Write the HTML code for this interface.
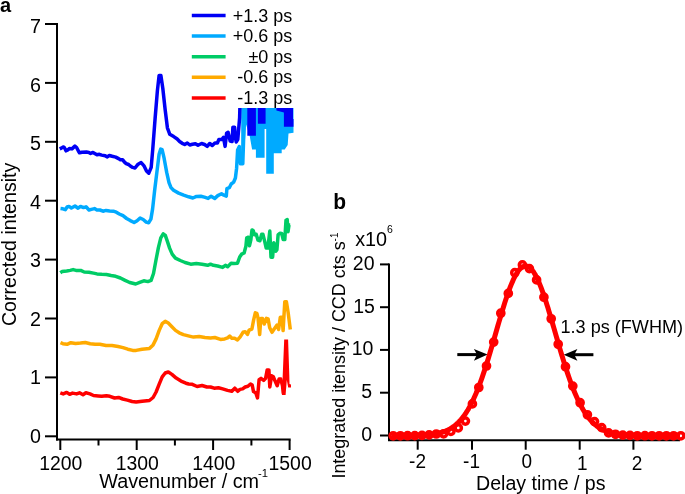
<!DOCTYPE html>
<html><head><meta charset="utf-8"><style>
html,body{margin:0;padding:0;background:#fff;}
svg{display:block;filter:blur(0.35px);}
</style></head><body>
<svg width="685" height="494" viewBox="0 0 685 494">
<rect width="685" height="494" fill="#fff"/>
<g stroke="#000" stroke-width="2" fill="none">
<line x1="57" y1="23" x2="57" y2="440.5"/>
<line x1="45" y1="24.0" x2="57" y2="24.0"/>
<line x1="45" y1="82.9" x2="57" y2="82.9"/>
<line x1="45" y1="141.8" x2="57" y2="141.8"/>
<line x1="45" y1="200.7" x2="57" y2="200.7"/>
<line x1="45" y1="259.6" x2="57" y2="259.6"/>
<line x1="45" y1="318.5" x2="57" y2="318.5"/>
<line x1="45" y1="377.4" x2="57" y2="377.4"/>
<line x1="45" y1="436.3" x2="57" y2="436.3"/>
<line x1="56" y1="439.5" x2="290.7" y2="439.5"/>
<line x1="60.3" y1="440" x2="60.3" y2="450"/>
<line x1="98.5" y1="440" x2="98.5" y2="445.5"/>
<line x1="136.7" y1="440" x2="136.7" y2="450"/>
<line x1="174.9" y1="440" x2="174.9" y2="445.5"/>
<line x1="213.1" y1="440" x2="213.1" y2="450"/>
<line x1="251.4" y1="440" x2="251.4" y2="445.5"/>
<line x1="289.6" y1="440" x2="289.6" y2="450"/>
</g>
<g font-family="'Liberation Sans', sans-serif" fill="#000">
<text transform="translate(41.0,32.6) scale(1,1.04)" font-size="19.7" text-anchor="end">7</text>
<text transform="translate(41.0,91.5) scale(1,1.04)" font-size="19.7" text-anchor="end">6</text>
<text transform="translate(41.0,150.4) scale(1,1.04)" font-size="19.7" text-anchor="end">5</text>
<text transform="translate(41.0,209.3) scale(1,1.04)" font-size="19.7" text-anchor="end">4</text>
<text transform="translate(41.0,267.3) scale(1,1.04)" font-size="19.7" text-anchor="end">3</text>
<text transform="translate(41.0,326.0) scale(1,1.04)" font-size="19.7" text-anchor="end">2</text>
<text transform="translate(41.0,384.3) scale(1,1.04)" font-size="19.7" text-anchor="end">1</text>
<text transform="translate(41.0,442.8) scale(1,1.04)" font-size="19.7" text-anchor="end">0</text>
<text transform="translate(60.8,469.6) scale(1,1.04)" font-size="19.4" text-anchor="middle">1200</text>
<text transform="translate(137.2,469.6) scale(1,1.04)" font-size="19.4" text-anchor="middle">1300</text>
<text transform="translate(213.7,469.6) scale(1,1.04)" font-size="19.4" text-anchor="middle">1400</text>
<text transform="translate(290.1,469.6) scale(1,1.04)" font-size="19.4" text-anchor="middle">1500</text>
<text transform="translate(99.2,488) scale(1,1.04)" font-size="19.8">Wavenumber / cm</text>
<text transform="translate(258.1,477.2) scale(1,1.04)" font-size="11.2">-1</text>
<text transform="translate(16,244.4) rotate(-90) scale(1,1.04)" font-size="19.6" text-anchor="middle">Corrected intensity</text>
<text transform="translate(0.1,12.1) scale(1,1.04)" font-size="20" font-weight="bold">a</text>
<line x1="191.8" y1="15.5" x2="225.6" y2="15.5" stroke="#0000f5" stroke-width="3.5"/>
<text transform="translate(292.3,21.5) scale(1,1.04)" font-size="18" text-anchor="end">+1.3 ps</text>
<line x1="191.8" y1="36.1" x2="225.6" y2="36.1" stroke="#00aaff" stroke-width="3.5"/>
<text transform="translate(292.3,42.1) scale(1,1.04)" font-size="18" text-anchor="end">+0.6 ps</text>
<line x1="191.8" y1="56.7" x2="225.6" y2="56.7" stroke="#00cc66" stroke-width="3.5"/>
<text transform="translate(292.3,62.7) scale(1,1.04)" font-size="18" text-anchor="end">±0 ps</text>
<line x1="191.8" y1="77.3" x2="225.6" y2="77.3" stroke="#ffaa00" stroke-width="3.5"/>
<text transform="translate(292.3,83.3) scale(1,1.04)" font-size="18" text-anchor="end">-0.6 ps</text>
<line x1="191.8" y1="97.9" x2="225.6" y2="97.9" stroke="#ff0000" stroke-width="3.5"/>
<text transform="translate(292.3,103.9) scale(1,1.04)" font-size="18" text-anchor="end">-1.3 ps</text>
</g>
<defs><clipPath id="ca"><rect x="58" y="20" width="178" height="420"/><rect x="236" y="108" width="62" height="332"/></clipPath></defs>
<g clip-path="url(#ca)" fill="none" stroke-width="3.5" stroke-linejoin="round" stroke-linecap="butt">
<polyline points="60.3,392.8 63.2,393.9 66.7,392.4 69.6,394.3 72.5,393.1 76.6,393.9 79.5,392.8 83.0,394.8 85.9,392.8 90.0,393.9 93.5,395.5 98.2,395.9 101.7,396.3 106.4,395.7 109.9,396.3 114.6,398.0 118.6,397.4 122.7,399.0 127.4,400.1 132.1,401.5 136.1,402.1 142.1,401.2 149.4,400.5 153.1,397.5 156.1,392.0 159.2,384.2 162.2,376.9 165.2,373.0 168.3,372.0 171.9,374.4 176.2,378.1 181.0,381.1 185.9,383.2 188.6,384.0 192.3,384.3 197.1,386.5 202.0,385.5 206.9,387.0 210.5,387.0 214.2,388.2 218.4,387.7 222.7,388.9 227.5,390.4 231.8,391.3 234.8,388.2 237.8,391.3 240.0,389.4 242.6,388.9 245.2,387.0 247.9,386.3 250.5,384.0 252.2,385.0 253.5,391.6 255.8,392.9 257.5,397.9 259.1,379.7 261.0,378.4 263.7,380.4 265.6,378.4 267.2,369.9 268.9,369.9 269.8,387.0 271.6,375.8 273.3,376.8 275.1,381.1 277.2,385.7 279.1,379.1 280.8,379.1 282.5,385.7 283.3,393.5" stroke="#ff0000"/>
<polygon points="281.9,395.0 284.2,339.6 288.1,339.6 289.3,375.0 289.5,384.0 291.0,384.5 291.0,387.5 288.2,387.5 286.8,380.0 285.6,395.0" fill="#ff0000" stroke="none"/>
<polyline points="60.5,342.7 62.9,343.7 67.1,344.3 70.8,342.7 75.6,343.5 80.5,343.1 85.3,342.5 90.2,343.7 95.1,344.3 99.9,344.3 106.0,345.5 112.0,345.5 118.1,346.5 123.0,347.6 127.8,349.2 132.7,350.4 136.1,350.4 142.1,349.2 149.4,348.6 153.1,344.9 156.1,338.9 159.2,330.4 162.2,323.7 165.2,321.3 168.3,323.1 171.9,326.7 175.5,330.4 179.2,332.8 183.4,334.6 189.3,336.1 193.5,337.1 199.2,336.5 204.9,337.5 210.5,337.9 214.8,337.5 220.5,339.4 224.7,338.9 227.6,337.9 229.7,336.1 231.8,338.2 234.6,338.2 237.5,339.9 240.2,336.8 243.0,332.3 245.2,331.7 247.5,334.5 249.1,330.1 251.9,329.0 253.6,320.1 255.3,312.8 256.9,313.4 258.0,317.8 259.7,334.5 260.8,318.4 262.5,318.4 264.2,324.0 266.4,318.4 268.1,318.9 269.7,327.8 272.0,332.3 274.2,329.0 277.0,325.1 278.6,329.5 280.3,317.3 282.0,317.3 283.1,330.6 284.8,301.7 286.4,301.7 288.1,312.3 290.3,329.5" stroke="#ffaa00"/>
<polyline points="60.3,272.8 62.0,271.6 66.7,271.0 70.2,270.4 73.1,269.6 76.0,270.4 80.7,270.4 84.2,272.0 88.9,272.2 93.5,273.1 97.0,273.9 101.7,274.3 106.4,274.5 111.1,275.5 115.7,276.3 120.4,278.0 125.1,280.4 129.7,282.5 135.7,284.0 139.7,282.4 143.8,280.8 147.8,281.6 151.1,280.3 153.5,273.5 155.9,260.5 158.4,247.6 160.8,237.8 163.2,233.8 165.3,235.4 167.3,241.1 169.7,248.4 172.2,254.1 175.4,258.1 180.3,260.5 185.1,262.5 190.7,264.2 196.3,263.6 202.0,264.3 207.7,265.3 210.5,264.2 213.4,265.3 217.6,266.0 222.6,267.4 225.4,265.3 227.6,266.7 231.1,263.2 233.9,263.6 237.5,263.2 239.7,257.0 241.6,254.2 244.1,253.0 245.9,246.3 246.7,237.8 248.3,237.2 249.5,245.7 250.8,240.2 252.0,229.9 253.2,230.5 254.4,234.8 256.2,234.2 258.0,240.2 259.9,240.8 261.7,234.2 262.9,234.2 264.7,241.4 266.2,248.1 267.8,248.1 269.8,231.1 271.0,257.2 272.6,257.2 273.8,242.7 275.7,251.2 276.9,249.9 278.1,234.8 279.9,233.2 281.7,233.5 283.2,239.6 284.8,239.6 286.0,220.2 287.2,219.6 288.0,231.7 289.0,225.0 290.2,225.0" stroke="#00cc66"/>
<polyline points="60.5,208.5 62.9,208.8 65.3,209.7 67.1,207.0 69.0,206.4 71.4,208.0 75.0,206.0 78.1,208.2 80.5,206.4 83.5,207.6 86.0,206.8 89.0,210.0 91.4,209.4 94.5,208.6 96.9,210.0 99.9,210.0 103.0,211.2 106.0,210.4 109.6,210.9 113.3,211.2 116.3,212.2 119.3,214.0 123.0,215.7 126.6,218.5 130.3,220.6 134.1,222.5 137.1,220.7 140.1,218.0 143.2,219.5 146.2,222.1 148.6,222.7 150.9,219.1 152.6,208.9 154.6,190.7 157.1,170.4 159.1,154.2 160.7,149.1 162.1,149.7 164.1,158.2 166.7,172.4 169.0,182.6 171.0,187.6 173.6,190.3 178.6,193.1 183.7,195.1 188.6,196.8 192.9,198.0 196.5,196.4 200.8,196.2 204.4,197.1 208.1,198.4 211.1,196.2 214.8,198.4 217.8,195.6 221.5,193.7 223.9,195.2 226.3,196.2 226.9,188.6 229.3,187.7 231.2,184.0 233.6,182.2 235.4,178.0 236.6,168.2 237.6,150.0 239.3,146.6 240.5,163.8 242.8,163.8 243.6,139.7 244.5,100.0" stroke="#00aaff"/>
<polygon points="241.2,108.0 293.5,108.0 293.5,132.8 288.5,133.5 287.7,144.9 284.7,149.5 281.7,149.5 281.7,153.2 273.8,153.2 273.8,173.7 266.2,173.7 266.2,129.0 264.6,129.0 264.6,157.8 255.9,157.8 255.9,149.5 252.1,149.5 249.7,136.0 246.1,124.6 243.3,163.8 241.2,163.8" fill="#00aaff" stroke="none"/>
<polyline points="59.7,148.9 61.4,148.1 63.2,146.9 64.3,147.5 66.1,150.8 67.8,149.9 69.6,148.5 71.9,148.9 74.9,146.1 76.6,147.5 78.4,151.0 79.5,152.8 81.9,152.2 86.5,152.0 88.9,152.4 90.6,153.4 93.0,152.4 94.7,153.4 97.0,154.8 99.4,154.3 101.7,155.1 105.2,155.7 107.0,156.9 109.3,155.5 112.2,156.3 115.7,157.1 118.6,158.6 120.4,159.8 122.7,159.8 124.5,162.1 126.2,163.6 128.6,164.5 130.3,166.0 132.7,167.4 135.0,168.0 138.1,164.2 141.1,162.5 144.2,166.2 146.5,171.0 148.8,173.2 151.2,167.3 152.8,148.7 155.1,118.5 157.4,90.6 159.1,75.5 160.9,75.5 162.8,88.3 165.1,109.2 167.4,127.8 169.8,134.3 173.7,136.6 177.2,139.0 179.6,141.5 182.2,143.3 184.7,144.5 187.3,143.0 189.8,145.0 192.4,144.3 195.4,143.7 198.0,145.3 201.6,143.5 204.6,144.5 207.2,146.4 209.7,143.5 212.3,145.5 214.9,143.0 217.4,143.0 218.9,139.4 222.0,139.4 223.5,137.4 225.1,146.4 226.6,133.3 228.1,132.3 230.2,141.0 232.1,141.5 232.9,127.2 234.6,127.2 235.4,138.0 236.3,142.0 237.8,139.4 239.6,118.0 240.1,100.0" stroke="#0000f5"/>
<polygon points="247.3,108.0 255.9,108.0 255.9,135.8 247.3,135.8" fill="#0000f5" stroke="none"/>
<polygon points="257.9,108.0 265.6,108.0 265.6,123.7 257.9,123.7" fill="#0000f5" stroke="none"/>
<polygon points="276.4,108.0 293.0,108.0 293.0,119.0 293.5,119.0 293.5,126.7 283.9,126.7 283.9,112.5 276.4,110.5" fill="#0000f5" stroke="none"/>
</g>
<g stroke="#000" stroke-width="2" fill="none">
<line x1="389" y1="263.4" x2="389" y2="441"/>
<line x1="380" y1="435.5" x2="389" y2="435.5"/>
<line x1="380" y1="392.7" x2="389" y2="392.7"/>
<line x1="380" y1="349.9" x2="389" y2="349.9"/>
<line x1="380" y1="307.2" x2="389" y2="307.2"/>
<line x1="380" y1="264.4" x2="389" y2="264.4"/>
<line x1="388" y1="440.3" x2="680" y2="440.3"/>
<line x1="417.7" y1="441" x2="417.7" y2="449.7"/>
<line x1="472" y1="441" x2="472" y2="449.7"/>
<line x1="525.7" y1="441" x2="525.7" y2="449.7"/>
<line x1="579.7" y1="441" x2="579.7" y2="449.7"/>
<line x1="633.4" y1="441" x2="633.4" y2="449.7"/>
</g>
<g font-family="'Liberation Sans', sans-serif" fill="#000">
<text transform="translate(372.0,440.8) scale(1,1.04)" font-size="19.5" text-anchor="end">0</text>
<text transform="translate(372.2,398.3) scale(1,1.04)" font-size="19.5" text-anchor="end">5</text>
<text transform="translate(373.3,354.8) scale(1,1.04)" font-size="19.5" text-anchor="end">10</text>
<text transform="translate(374.8,312.6) scale(1,1.04)" font-size="19.5" text-anchor="end">15</text>
<text transform="translate(374.5,270.0) scale(1,1.04)" font-size="19.5" text-anchor="end">20</text>
<text transform="translate(417.5,468.2) scale(1,1.04)" font-size="19" text-anchor="middle">-2</text>
<text transform="translate(471.5,468.2) scale(1,1.04)" font-size="19" text-anchor="middle">-1</text>
<text transform="translate(526.8,468.2) scale(1,1.04)" font-size="19" text-anchor="middle">0</text>
<text transform="translate(582.2,470) scale(1,1.04)" font-size="19" text-anchor="middle">1</text>
<text transform="translate(637,470) scale(1,1.04)" font-size="19" text-anchor="middle">2</text>
<text transform="translate(476,489.8) scale(1,1.04)" font-size="19.6">Delay time / ps</text>
<text transform="translate(355.2,246) scale(1,1.04)" font-size="19.8">x10</text>
<text transform="translate(387.1,232.6) scale(1,1.04)" font-size="10.5">6</text>
<text transform="translate(345.0,478.6) rotate(-90) scale(1,1.04)" font-size="17.95">Integrated itensity / CCD cts s<tspan dy="-6.3" font-size="9.8">-1</tspan></text>
<text transform="translate(333.2,209.2) scale(1,1.04)" font-size="21" font-weight="bold">b</text>
<text transform="translate(560.5,332.9) scale(1,1.04)" font-size="18.1">1.3 ps (FWHM)</text>
</g>
<g fill="#000" stroke="none">
<rect x="457.3" y="353.1" width="20" height="3"/>
<polygon points="487.6,354.6 473.9,349 477,354.6 473.9,360.7"/>
<rect x="573" y="353.2" width="20.4" height="3"/>
<polygon points="563.7,354.7 577.4,349.1 574.3,354.7 577.4,360.8"/>
</g>
<polyline points="392.0,435.5 393.0,435.5 394.0,435.5 395.0,435.5 396.0,435.5 397.0,435.5 398.0,435.5 399.0,435.5 400.0,435.5 401.0,435.5 402.0,435.5 403.0,435.5 404.0,435.5 405.0,435.5 406.0,435.4 407.0,435.4 408.0,435.4 409.0,435.4 410.0,435.4 411.0,435.4 412.0,435.4 413.0,435.4 414.0,435.4 415.0,435.3 416.0,435.3 417.0,435.3 418.0,435.3 419.0,435.2 420.0,435.2 421.0,435.2 422.0,435.1 423.0,435.1 424.0,435.0 425.0,435.0 426.0,434.9 427.0,434.8 428.0,434.7 429.0,434.6 430.0,434.6 431.0,434.4 432.0,434.3 433.0,434.2 434.0,434.0 435.0,433.9 436.0,433.7 437.0,433.5 438.0,433.3 439.0,433.1 440.0,432.8 441.0,432.6 442.0,432.3 443.0,432.0 444.0,431.6 445.0,431.2 446.0,430.8 447.0,430.4 448.0,429.9 449.0,429.4 450.0,428.9 451.0,428.3 452.0,427.6 453.0,427.0 454.0,426.2 455.0,425.5 456.0,424.6 457.0,423.7 458.0,422.8 459.0,421.8 460.0,420.7 461.0,419.6 462.0,418.4 463.0,417.1 464.0,415.8 465.0,414.4 466.0,412.9 467.0,411.3 468.0,409.7 469.0,407.9 470.0,406.1 471.0,404.2 472.0,402.2 473.0,400.2 474.0,398.0 475.0,395.8 476.0,393.5 477.0,391.0 478.0,388.6 479.0,386.0 480.0,383.3 481.0,380.6 482.0,377.8 483.0,374.9 484.0,371.9 485.0,368.9 486.0,365.8 487.0,362.6 488.0,359.4 489.0,356.1 490.0,352.8 491.0,349.4 492.0,346.0 493.0,342.6 494.0,339.2 495.0,335.7 496.0,332.2 497.0,328.8 498.0,325.3 499.0,321.9 500.0,318.5 501.0,315.1 502.0,311.8 503.0,308.5 504.0,305.2 505.0,302.1 506.0,299.0 507.0,296.0 508.0,293.1 509.0,290.4 510.0,287.7 511.0,285.1 512.0,282.7 513.0,280.4 514.0,278.3 515.0,276.3 516.0,274.5 517.0,272.8 518.0,271.3 519.0,270.0 520.0,268.9 521.0,267.9 522.0,267.1 523.0,266.6 524.0,266.2 525.0,266.0 526.0,265.9 527.0,266.1 528.0,266.5 529.0,267.1 530.0,267.8 531.0,268.8 532.0,269.9 533.0,271.2 534.0,272.7 535.0,274.3 536.0,276.1 537.0,278.1 538.0,280.2 539.0,282.5 540.0,284.9 541.0,287.4 542.0,290.1 543.0,292.9 544.0,295.7 545.0,298.7 546.0,301.8 547.0,304.9 548.0,308.1 549.0,311.4 550.0,314.7 551.0,318.1 552.0,321.5 553.0,325.0 554.0,328.4 555.0,331.9 556.0,335.4 557.0,338.8 558.0,342.3 559.0,345.7 560.0,349.1 561.0,352.4 562.0,355.8 563.0,359.0 564.0,362.3 565.0,365.4 566.0,368.6 567.0,371.6 568.0,374.6 569.0,377.5 570.0,380.3 571.0,383.0 572.0,385.7 573.0,388.3 574.0,390.8 575.0,393.2 576.0,395.5 577.0,397.8 578.0,400.0 579.0,402.0 580.0,404.0 581.0,405.9 582.0,407.7 583.0,409.5 584.0,411.1 585.0,412.7 586.0,414.2 587.0,415.6 588.0,417.0 589.0,418.3 590.0,419.5 591.0,420.6 592.0,421.7 593.0,422.7 594.0,423.7 595.0,424.5 596.0,425.4 597.0,426.2 598.0,426.9 599.0,427.6 600.0,428.2 601.0,428.8 602.0,429.4 603.0,429.9 604.0,430.4 605.0,430.8 606.0,431.2 607.0,431.6 608.0,431.9 609.0,432.3 610.0,432.5 611.0,432.8 612.0,433.1 613.0,433.3 614.0,433.5 615.0,433.7 616.0,433.9 617.0,434.0 618.0,434.2 619.0,434.3 620.0,434.4 621.0,434.5 622.0,434.6 623.0,434.7 624.0,434.8 625.0,434.9 626.0,434.9 627.0,435.0 628.0,435.1 629.0,435.1 630.0,435.2 631.0,435.2 632.0,435.2 633.0,435.3 634.0,435.3 635.0,435.3 636.0,435.3 637.0,435.4 638.0,435.4 639.0,435.4 640.0,435.4 641.0,435.4 642.0,435.4 643.0,435.4 644.0,435.4 645.0,435.4 646.0,435.5 647.0,435.5 648.0,435.5 649.0,435.5 650.0,435.5 651.0,435.5 652.0,435.5 653.0,435.5 654.0,435.5 655.0,435.5 656.0,435.5 657.0,435.5 658.0,435.5 659.0,435.5 660.0,435.5 661.0,435.5 662.0,435.5 663.0,435.5 664.0,435.5 665.0,435.5 666.0,435.5 667.0,435.5 668.0,435.5 669.0,435.5 670.0,435.5 671.0,435.5 672.0,435.5 673.0,435.5 674.0,435.5 675.0,435.5 676.0,435.5 677.0,435.5 678.0,435.5 679.0,435.5 680.0,435.5" fill="none" stroke="#ff0000" stroke-width="5" stroke-linejoin="round"/>
<g fill="none" stroke="#ff0000" stroke-width="3.5">
<circle cx="393.2" cy="435.8" r="3.1"/>
<circle cx="400.4" cy="435.8" r="3.1"/>
<circle cx="407.6" cy="435.7" r="3.1"/>
<circle cx="414.8" cy="435.6" r="3.1"/>
<circle cx="422.0" cy="435.4" r="3.1"/>
<circle cx="429.1" cy="434.9" r="3.1"/>
<circle cx="436.3" cy="434.0" r="3.1"/>
<circle cx="443.6" cy="433.8" r="3.1"/>
<circle cx="450.9" cy="431.4" r="3.1"/>
<circle cx="458.3" cy="427.9" r="3.1"/>
<circle cx="465.4" cy="421.1" r="3.1"/>
<circle cx="472.4" cy="403.9" r="3.1"/>
<circle cx="478.8" cy="387.5" r="3.1"/>
<circle cx="486.5" cy="366.0" r="3.1"/>
<circle cx="493.7" cy="342.1" r="3.1"/>
<circle cx="500.8" cy="313.2" r="3.1"/>
<circle cx="508.3" cy="293.4" r="3.1"/>
<circle cx="514.8" cy="272.7" r="3.1"/>
<circle cx="522.4" cy="264.9" r="3.1"/>
<circle cx="529.4" cy="268.6" r="3.1"/>
<circle cx="536.6" cy="279.9" r="3.1"/>
<circle cx="543.9" cy="297.2" r="3.1"/>
<circle cx="551.2" cy="318.8" r="3.1"/>
<circle cx="558.2" cy="344.3" r="3.1"/>
<circle cx="565.5" cy="366.7" r="3.1"/>
<circle cx="572.8" cy="386.1" r="3.1"/>
<circle cx="580.1" cy="402.7" r="3.1"/>
<circle cx="587.4" cy="414.8" r="3.1"/>
<circle cx="594.5" cy="421.6" r="3.1"/>
<circle cx="601.7" cy="427.6" r="3.1"/>
<circle cx="608.6" cy="432.9" r="3.1"/>
<circle cx="615.5" cy="434.3" r="3.1"/>
<circle cx="622.8" cy="435.1" r="3.1"/>
<circle cx="630.0" cy="435.4" r="3.1"/>
<circle cx="637.3" cy="435.8" r="3.1"/>
<circle cx="644.9" cy="435.7" r="3.1"/>
<circle cx="652.0" cy="435.8" r="3.1"/>
<circle cx="659.2" cy="435.8" r="3.1"/>
<circle cx="666.4" cy="435.8" r="3.1"/>
<circle cx="673.6" cy="435.8" r="3.1"/>
<circle cx="680.8" cy="435.8" r="3.1"/>
</g>
</svg>
</body></html>
